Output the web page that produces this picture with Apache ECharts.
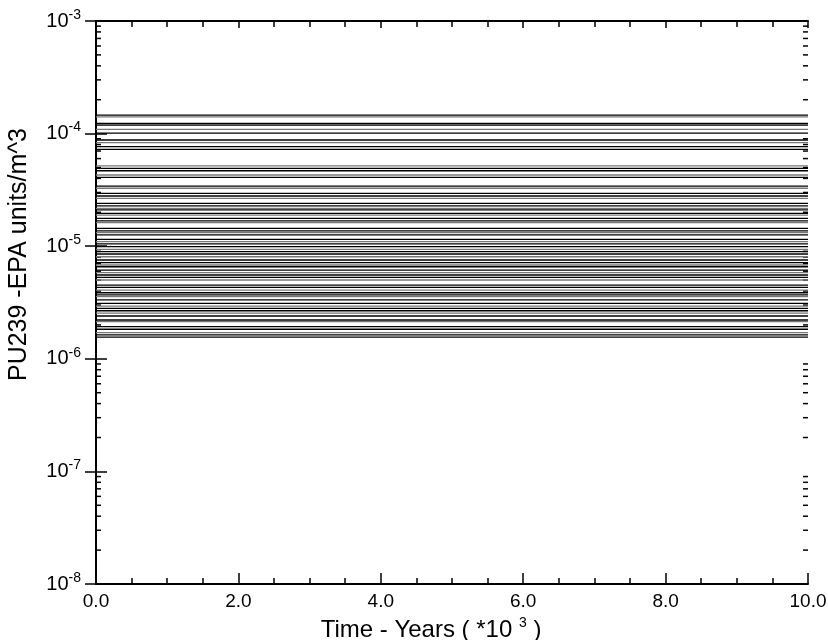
<!DOCTYPE html>
<html>
<head>
<meta charset="utf-8">
<script src="https://cdn.jsdelivr.net/npm/echarts@6/dist/echarts.min.js"></script>
<style>
  html, body { margin: 0; padding: 0; background: #fff; }
  #main { width: 828px; height: 640px; }
</style>
</head>
<body>
<div id="main"></div>
<script>
// time axis (thousands of years)
var timeStart = 0.0;
var timeEnd = 10.0;

// concentration levels of the realizations (EPA units/m^3)
var levels = [
  1.46e-4, 1.41e-4, 1.23e-4, 1.19e-4, 1.09e-4, 1.01e-4,
  8.77e-5, 8.30e-5, 7.65e-5, 7.25e-5,
  5.16e-5, 4.92e-5, 4.68e-5, 4.29e-5, 4.09e-5,
  3.42e-5, 3.27e-5, 2.95e-5, 2.79e-5, 2.66e-5,
  2.40e-5, 2.28e-5, 2.17e-5, 2.10e-5, 1.96e-5, 1.89e-5,
  1.77e-5, 1.68e-5, 1.62e-5, 1.44e-5, 1.37e-5, 1.32e-5, 1.26e-5,
  1.15e-5, 1.10e-5, 1.05e-5, 9.90e-6, 9.39e-6,
  8.94e-6, 8.53e-6, 8.06e-6, 7.54e-6, 7.14e-6, 6.81e-6, 6.57e-6,
  6.14e-6, 5.82e-6, 5.55e-6, 5.29e-6, 5.01e-6,
  4.52e-6, 4.31e-6, 4.08e-6, 3.86e-6, 3.69e-6, 3.56e-6,
  3.33e-6, 3.11e-6, 2.94e-6, 2.81e-6, 2.67e-6, 2.54e-6, 2.40e-6,
  2.21e-6, 2.14e-6, 1.93e-6, 1.83e-6, 1.71e-6, 1.63e-6, 1.56e-6
];

// log axis minor tick values (2..9 of each decade)
var minorTicks = [];
for (var e = -8; e < -3; e++) {
  for (var m = 2; m <= 9; m++) {
    minorTicks.push(m * Math.pow(10, e));
  }
}

var myChart = echarts.init(document.getElementById('main'));

var series = levels.map(function (v, i) {
  return {
    type: 'line',
    xAxisIndex: 0,
    yAxisIndex: 0,
    symbol: 'none',
    silent: true,
    lineStyle: { color: i % 3 === 1 ? '#777' : '#000', width: 1.3 },
    data: [[timeStart, v], [timeEnd, v]]
  };
});

// minor ticks on left and right log axes
series.push({
  type: 'custom',
  xAxisIndex: 0,
  yAxisIndex: 0,
  silent: true,
  clip: false,
  data: minorTicks.map(function (v) { return [0, v]; }),
  renderItem: function (params, api) {
    var l = api.coord([timeStart, api.value(1)]);
    var r = api.coord([timeEnd, api.value(1)]);
    var st = { stroke: '#000', lineWidth: 1.5 };
    return {
      type: 'group',
      children: [
        { type: 'line', shape: { x1: l[0], y1: l[1], x2: l[0] + 5, y2: l[1] }, style: st },
        { type: 'line', shape: { x1: r[0], y1: r[1], x2: r[0] - 5, y2: r[1] }, style: st }
      ]
    };
  }
});

var axisFont = 'Liberation Sans, Arial, sans-serif';

var option = {
  animation: false,
  backgroundColor: '#fff',
  grid: { left: 96, right: 20, top: 21, bottom: 56, containLabel: false, outerBoundsMode: 'none' },
  xAxis: [
    {
      type: 'value',
      position: 'bottom',
      min: 0,
      max: 10,
      interval: 2,
      name: '{a|Time - Years ( *10 }{s|3}{a| )}',
      nameLocation: 'middle',
      nameGap: 31,
      nameTextStyle: {
        padding: [0, 42, 0, 0],
        rich: {
          a: { fontFamily: axisFont, fontSize: 24, color: '#000' },
          s: { fontFamily: axisFont, fontSize: 14, color: '#000', padding: [0, 0, 14, 0] }
        }
      },
      axisLine: { lineStyle: { color: '#000', width: 2 } },
      axisTick: { inside: true, length: 11, lineStyle: { color: '#000', width: 1.5 } },
      minorTick: { show: true, splitNumber: 4, length: 6, lineStyle: { color: '#000', width: 1.5 } },
      axisLabel: {
        fontFamily: axisFont, fontSize: 19, color: '#000', margin: 8,
        formatter: function (v) { return v.toFixed(1); }
      },
      splitLine: { show: false }
    },
    {
      type: 'value',
      position: 'top',
      min: 0,
      max: 10,
      interval: 2,
      axisLine: { lineStyle: { color: '#000', width: 2 } },
      axisTick: { inside: true, length: 7, lineStyle: { color: '#000', width: 1.5 } },
      minorTick: { show: true, splitNumber: 4, length: 6, lineStyle: { color: '#000', width: 1.5 } },
      axisLabel: { show: false },
      splitLine: { show: false }
    }
  ],
  yAxis: [
    {
      type: 'log',
      position: 'left',
      logBase: 10,
      min: 1e-8,
      max: 1e-3,
      name: 'PU239 -EPA units/m^3',
      nameLocation: 'middle',
      nameGap: 64,
      nameTextStyle: { fontFamily: axisFont, fontSize: 25, color: '#000', padding: [0, 0, 0, 96] },
      axisLine: { lineStyle: { color: '#000', width: 2 } },
      axisTick: { inside: true, length: 11, lineStyle: { color: '#000', width: 1.5 } },
      axisLabel: {
        margin: 15,
        formatter: function (v) {
          return '{b|10}{s|' + Math.round(Math.log10(v)) + '}';
        },
        rich: {
          b: { fontFamily: axisFont, fontSize: 20, color: '#000' },
          s: { fontFamily: axisFont, fontSize: 14, color: '#000', padding: [0, 0, 12, 0] }
        }
      },
      splitLine: { show: false }
    },
    {
      type: 'log',
      position: 'right',
      logBase: 10,
      min: 1e-8,
      max: 1e-3,
      axisLine: { lineStyle: { color: '#000', width: 2 } },
      axisTick: { inside: true, length: 11, lineStyle: { color: '#000', width: 1.5 } },
      axisLabel: { show: false },
      splitLine: { show: false }
    }
  ],
  series: series
};

myChart.setOption(option);
</script>
</body>
</html>
